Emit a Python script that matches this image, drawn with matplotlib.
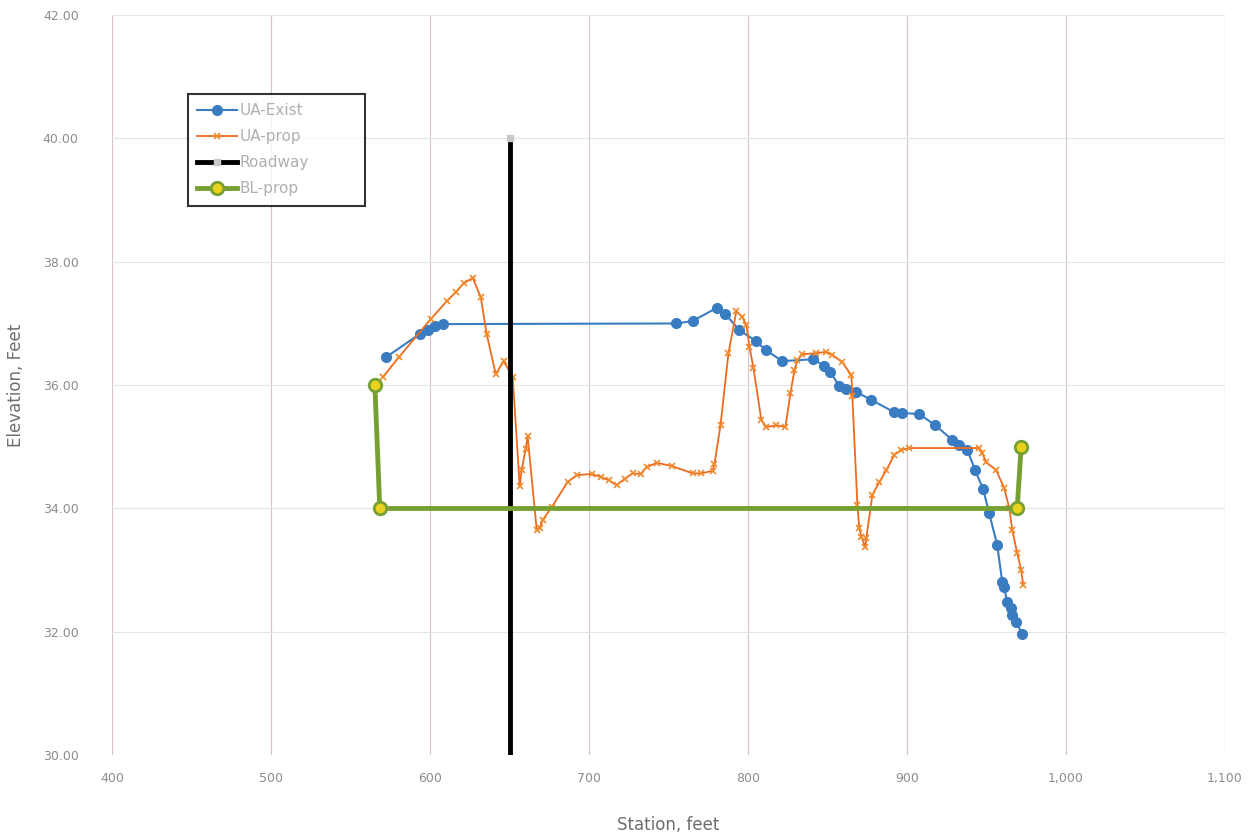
import matplotlib.pyplot as plt
from matplotlib.ticker import FuncFormatter

# UA-Exist (existing ground)
exist_x = [572.2, 593.5, 598.6, 603.0, 608.0, 755.0, 765.1, 780.2, 785.8, 794.6,
           805.3, 811.0, 821.6, 841.1, 848.0, 851.8, 857.5, 861.9, 868.1, 877.6,
           892.0, 897.0, 907.7, 917.8, 928.5, 932.9, 937.9, 942.9, 947.9, 951.7,
           956.7, 959.9, 961.1, 963.0, 965.5, 966.2, 968.7, 972.5]
exist_y = [36.45, 36.83, 36.89, 36.96, 36.99, 37.00, 37.04, 37.25, 37.15, 36.89,
           36.71, 36.57, 36.39, 36.42, 36.31, 36.21, 35.98, 35.94, 35.89, 35.76,
           35.56, 35.55, 35.53, 35.35, 35.11, 35.03, 34.95, 34.62, 34.31, 33.92,
           33.41, 32.81, 32.72, 32.48, 32.38, 32.27, 32.16, 31.96]

# UA-prop (proposed)
prop_x = [570.3, 580.3, 600.4, 610.5, 616.2, 621.2, 626.8, 631.9, 635.6, 641.3,
          646.3, 652.0, 656.4, 657.6, 660.1, 661.4, 667.1, 668.9, 670.8, 676.5,
          686.5, 692.2, 701.6, 707.3, 712.3, 717.3, 722.4, 727.4, 732.4, 736.2,
          742.5, 751.9, 765.1, 770.7, 777.7, 778.9, 782.7, 787.7, 792.7, 796.5,
          799.0, 800.9, 803.4, 808.4, 811.6, 817.9, 823.5, 826.7, 829.2, 831.1,
          834.2, 843.0, 849.3, 853.1, 859.3, 865.0, 865.6, 868.8, 870.0, 871.3,
          873.8, 874.4, 878.2, 882.6, 887.0, 892.0, 896.4, 901.4, 945.4, 947.3,
          949.8, 956.1, 961.1, 964.3, 966.2, 969.3, 971.8, 973.1]
prop_y = [36.13, 36.45, 37.07, 37.36, 37.51, 37.65, 37.74, 37.43, 36.83, 36.18,
          36.39, 36.13, 34.36, 34.62, 34.96, 35.17, 33.65, 33.68, 33.81, 34.02,
          34.43, 34.54, 34.56, 34.51, 34.46, 34.38, 34.48, 34.57, 34.56, 34.67,
          34.74, 34.69, 34.57, 34.57, 34.61, 34.72, 35.35, 36.52, 37.20, 37.10,
          36.97, 36.62, 36.28, 35.43, 35.32, 35.35, 35.32, 35.87, 36.24, 36.41,
          36.50, 36.52, 36.54, 36.49, 36.37, 36.16, 35.82, 34.05, 33.68, 33.54,
          33.37, 33.52, 34.22, 34.43, 34.62, 34.87, 34.95, 34.98, 34.98, 34.90,
          34.75, 34.62, 34.33, 34.01, 33.65, 33.28, 33.00, 32.76]

# Roadway
road_x = [650, 650]
road_y = [30, 40]

# BL-prop
bl_x = [565.3, 568.4, 969.3, 971.8]
bl_y = [36.0, 34.0, 34.0, 35.0]

fig = plt.figure(figsize=(12.59, 8.4), dpi=100)
ax = fig.add_axes([0.089, 0.101, 0.884, 0.881])

ax.plot(exist_x, exist_y, color='#3a7cc2', lw=1.5, marker='o', ms=7,
        label='UA-Exist', zorder=3)
ax.plot(prop_x, prop_y, color='#ee6a1e', lw=1.3, marker='x', ms=5, mew=1.2,
        mec='#f08a2a', label='UA-prop', zorder=4)
ax.plot(road_x, road_y, color='black', lw=3.5, marker='s', ms=5, markevery=[1],
        mfc='#c8c8c8', mec='#c8c8c8', label='Roadway', zorder=5)
ax.plot(bl_x, bl_y, color='#77a033', lw=3.5, marker='o', ms=9,
        mfc='#e8d21e', mec='#77a033', mew=2, label='BL-prop', zorder=6)

ax.set_xlim(400, 1100)
ax.set_ylim(30, 42)
ax.set_xticks(range(400, 1101, 100))
ax.set_yticks(range(30, 43, 2))
ax.xaxis.set_major_formatter(FuncFormatter(lambda v, p: f'{int(v):,}'))
ax.yaxis.set_major_formatter(FuncFormatter(lambda v, p: f'{v:.2f}'))

ax.grid(axis='x', color='#d9c4cc', lw=0.8)
ax.grid(axis='y', color='#e4e4e4', lw=0.8)
ax.set_axisbelow(True)
for s in ax.spines.values():
    s.set_visible(False)
ax.tick_params(length=0, labelsize=9, labelcolor='#8c8c8c')
ax.tick_params(axis='x', pad=12)
ax.tick_params(axis='y', pad=24)

ax.set_xlabel('Station, feet', fontsize=12, color='#6e6e6e')
ax.set_ylabel('Elevation, Feet', fontsize=12, color='#6e6e6e')
ax.xaxis.set_label_coords(0.5, -0.082)
ax.yaxis.set_label_coords(-0.078, 0.5)

leg = ax.legend(loc='upper left', bbox_to_anchor=(0.068, 0.742, 0.159, 0.151),
                mode='expand', frameon=True, fancybox=False, edgecolor='black',
                fontsize=11, labelspacing=0.72, handlelength=2.6, borderpad=0.6,
                borderaxespad=0, handletextpad=0.2)
leg.get_frame().set_linewidth(1.5)
for t in leg.get_texts():
    t.set_color('#b0b0b0')

fig.savefig('out.png', dpi=100, facecolor='white')
